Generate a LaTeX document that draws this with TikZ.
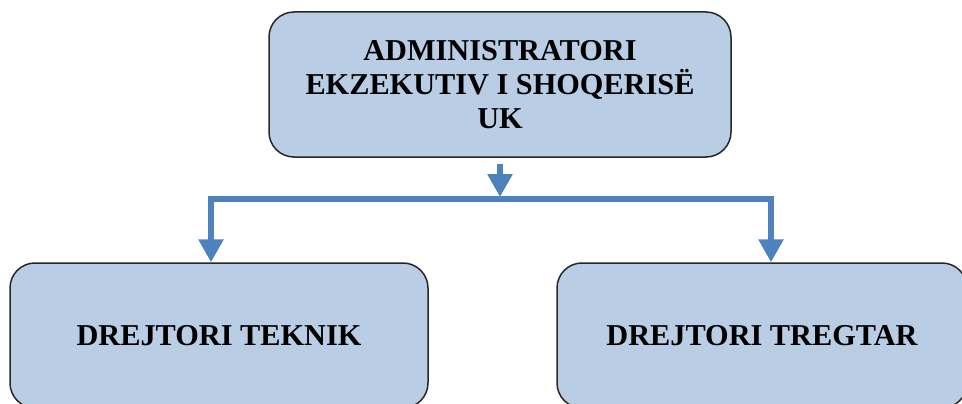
\documentclass[tikz,border=0pt]{standalone}
\usepackage{fontspec}
\setmainfont{Liberation Serif}
\usetikzlibrary{arrows.meta}
\definecolor{boxfill}{HTML}{B9CDE5}
\definecolor{flowblue}{HTML}{4F81BD}
\begin{document}
\begin{tikzpicture}[x=1pt,y=-1pt,
  unit/.style={draw=black!85, line width=1.5pt, fill=boxfill,
    rounded corners=25pt, minimum height=145pt, inner sep=0pt,
    align=center, font=\fontsize{30.3}{34}\selectfont\bfseries},
  flow/.style={draw=flowblue, line width=6.5pt, line join=miter,
    -{Triangle[width=24pt,length=23pt]}}]
\useasboundingbox (0,0) rectangle (962,404);

% organisational units
\node[unit, minimum width=462pt] (ceo) at (500,84.5)
  {ADMINISTRATORI\\EKZEKUTIV I SHOQERISË\\UK};
\node[unit, minimum width=418pt] (tech) at (219,335.5) {DREJTORI TEKNIK};
\node[unit, minimum width=410pt] (trade) at (762,335.5) {DREJTORI TREGTAR};

% branching connectors
\coordinate (split) at (500,199);
\coordinate (stemtip) at (500,197);
\draw[flow] ([yshift=-6pt]ceo.south) -- (stemtip);
\draw[flow] (split) -| ([xshift=-8pt]tech.north);
\draw[flow] (split) -| ([xshift=9pt]trade.north);
\end{tikzpicture}
\end{document}
